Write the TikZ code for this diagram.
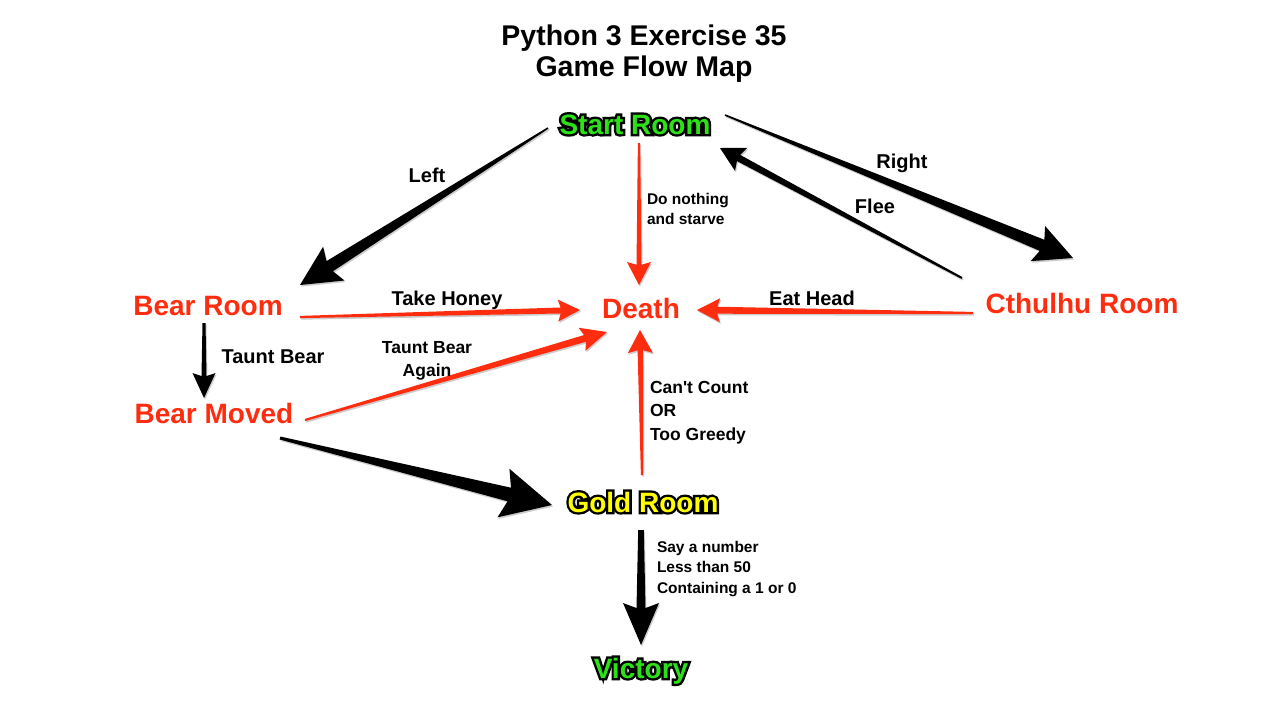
\documentclass[tikz,border=0pt]{standalone}
\usepackage{fontspec}
\setmainfont{Liberation Sans}[Ligatures=TeXOff]
\newfontfamily\outlinefont{Liberation Sans}[Ligatures=TeXOff, BoldFeatures={FakeBold=17}]
\usetikzlibrary{calc}
\pgfdeclarelayer{back}
\pgfsetlayers{back,main}
\definecolor{kred}{RGB}{255,45,15}
\definecolor{kgreen}{RGB}{45,225,25}
\definecolor{kyellow}{RGB}{255,255,0}
\definecolor{shadowc}{gray}{0.8}
% outlined room name: #1 name, #2 position, #3 fill colour, #4 text
\newcommand\outl[4]{%
  \node[roomf, text=black] at #2 {\outlinefont\bfseries #4};
  \node[roomf, text=#3] (#1) at #2 {#4};
}
% tapered arrow: #1 colour, #2 from, #3 to, #4 half width at start, #5 half width at neck, #6 head length, #7 head half width
\newcommand\taper[7]{%
  \coordinate (tpN) at ($(#3)!0.88*#6pt!(#2)$);
  \coordinate (tpH) at ($(#3)!#6pt!(#2)$);
  \fill[shadowc, transform canvas={shift={(1,1.6)}}] ($(#2)!#4pt!90:(#3)$) -- ($(tpN)!#5pt!90:(#3)$) -- ($(tpH)!#7pt!90:(#3)$) -- (#3) -- ($(tpH)!#7pt!-90:(#3)$) -- ($(tpN)!#5pt!-90:(#3)$) -- ($(#2)!#4pt!-90:(#3)$) -- cycle;
  \fill[#1] ($(#2)!#4pt!90:(#3)$) -- ($(tpN)!#5pt!90:(#3)$) -- ($(tpH)!#7pt!90:(#3)$) -- (#3) -- ($(tpH)!#7pt!-90:(#3)$) -- ($(tpN)!#5pt!-90:(#3)$) -- ($(#2)!#4pt!-90:(#3)$) -- cycle;
}
\begin{document}
\begin{tikzpicture}[x=1pt,y=-1pt,
  txt/.style={inner sep=0pt, outer sep=0pt, anchor=base},
  titlef/.style={txt, font=\fontsize{28.5}{31}\selectfont\bfseries},
  roomf/.style={txt, font=\fontsize{28}{32}\selectfont\bfseries},
  labf/.style={txt, font=\fontsize{20}{24}\selectfont\bfseries},
  midf/.style={txt, font=\fontsize{17.5}{23.5}\selectfont\bfseries},
  smallf/.style={txt, font=\fontsize{15.5}{20.5}\selectfont\bfseries}]
\useasboundingbox (0,0) rectangle (1280,721);
\begin{pgfonlayer}{back}
\fill[white] (0,0) rectangle (1280,721);
\end{pgfonlayer}

% title
\node[titlef] (title) at (644,45) {\begin{tabular}[t]{@{}c@{}}Python 3 Exercise 35\\Game Flow Map\hspace{14pt}\end{tabular}};

% rooms
\outl{start}{(635,134)}{kgreen}{Start Room}
\node[roomf, text=kred] (bear) at (208,315) {Bear Room};
\node[roomf, text=kred] (moved) at (214,423) {Bear Moved};
\node[roomf, text=kred] (death) at (641,318) {Death};
\node[roomf, text=kred] (cthulhu) at (1082,313) {Cthulhu Room};
\outl{gold}{(643,512)}{kyellow}{Gold Room}
\outl{victory}{(641,678)}{kgreen}{Victory}

% labels
\node[labf] (lLeft) at (427,182) {Left};
\node[labf] (lRight) at (902,168) {Right};
\node[labf] (lFlee) at (875,213) {Flee};
\node[labf] (lHoney) at (447,305) {Take Honey};
\node[labf] (lEat) at (812,305) {Eat Head};
\node[labf] (lTaunt) at (273,363) {Taunt Bear};
\node[midf] (lAgain) at (427,353) {\begin{tabular}[t]{@{}c@{}}Taunt Bear\\Again\end{tabular}};
\node[midf, anchor=base west] (lCount) at (650,393) {\begin{tabular}[t]{@{}l@{}}Can't Count\\OR\\Too Greedy\end{tabular}};
\node[smallf, anchor=base west] (lStarve) at (647,204) {\begin{tabular}[t]{@{}l@{}}Do nothing\\and starve\end{tabular}};
\node[smallf, anchor=base west] (lNumber) at (657,552) {\begin{tabular}[t]{@{}l@{}}Say a number\\Less than 50\\Containing a 1 or 0\end{tabular}};

% connector end points, relative to the nodes
\coordinate (aL1) at ($(start.base)+(-87,-6)$);
\coordinate (aL2) at ($(bear.base)+(92,-30)$);
\coordinate (aR1) at ($(start.base)+(90,-19)$);
\coordinate (aR2) at ($(cthulhu.base)+(-9,-55)$);
\coordinate (aF1) at ($(cthulhu.base)+(-120,-35)$);
\coordinate (aF2) at ($(start.base)+(85,14)$);
\coordinate (aS1) at ($(start.base)+(4,9)$);
\coordinate (aS2) at ($(death.base)+(-2,-33)$);
\coordinate (aH1) at ($(bear.base)+(92,2)$);
\coordinate (aH2) at ($(death.base)+(-61,-8)$);
\coordinate (aE1) at ($(cthulhu.base)+(-109,0)$);
\coordinate (aE2) at ($(death.base)+(56,-8)$);
\coordinate (aA1) at ($(moved.base)+(91,-3)$);
\coordinate (aA2) at ($(death.base)+(-34,14)$);
\coordinate (aC1) at ($(gold.base)+(-1,-37)$);
\coordinate (aC2) at ($(death.base)+(-1,12)$);
\coordinate (aT1) at ($(bear.base)+(-4,8)$);
\coordinate (aT2) at ($(moved.base)+(-10,-25)$);
\coordinate (aG1) at ($(moved.base)+(66,15)$);
\coordinate (aG2) at ($(gold.base)+(-91,-7)$);
\coordinate (aV1) at ($(gold.base)+(-2,18)$);
\coordinate (aV2) at ($(victory.base)+(0,-33)$);

\begin{pgfonlayer}{back}
\taper{black}{aL1}{aL2}{0.8}{6}{40}{20}
\taper{black}{aR1}{aR2}{0.8}{6}{38}{19}
\taper{black}{aF1}{aF2}{1}{3.5}{24}{13}
\taper{kred}{aS1}{aS2}{1.1}{2.5}{23}{12}
\taper{kred}{aH1}{aH2}{1.1}{3}{22}{11}
\taper{kred}{aE1}{aE2}{1.1}{3.5}{23}{12}
\taper{kred}{aA1}{aA2}{1.1}{3.5}{26}{12}
\taper{kred}{aC1}{aC2}{1.1}{2.7}{23}{12.5}
\taper{black}{aT1}{aT2}{1.5}{2.5}{25}{11.5}
\taper{black}{aG1}{aG2}{1.5}{7}{50}{25}
\taper{black}{aV1}{aV2}{2.8}{4.5}{42}{18}
\end{pgfonlayer}
\end{tikzpicture}
\end{document}
